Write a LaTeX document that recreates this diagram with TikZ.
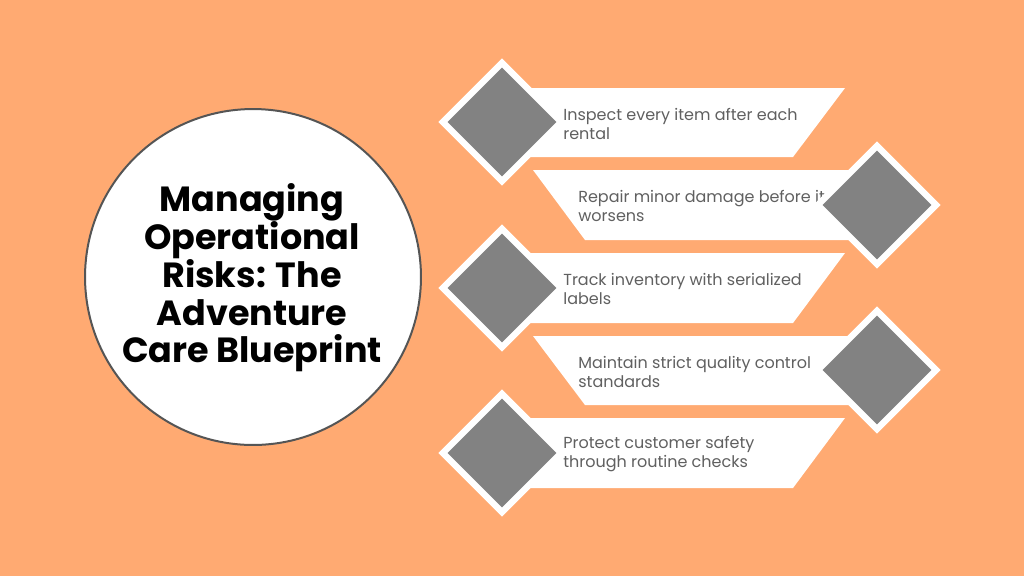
\documentclass[tikz,border=0pt]{standalone}
\usepackage{fontspec}
\setmainfont{Poppins}
\usetikzlibrary{shapes.geometric}

\definecolor{bgorange}{HTML}{FFAA72}
\definecolor{tilegray}{HTML}{828282}
\definecolor{textgray}{HTML}{606060}
\definecolor{rimgray}{HTML}{555555}

\begin{document}
\begin{tikzpicture}[x=0.02cm, y=-0.02cm]
    \tikzstyle{banner} = [fill=white]
    \tikzstyle{tile}   = [shape=diamond, fill=tilegray, draw=white, line width=0.128cm, inner sep=0, minimum width=2.42cm, minimum height=2.42cm]
    \tikzstyle{item}   = [anchor=west, align=left, inner sep=0, text=textgray, font=\fontsize{9.1}{10.8}\selectfont]

    \fill[bgorange] (0, 0) rectangle (1024, 576);

    \node[shape=circle, fill=white, draw=rimgray, line width=0.04cm, minimum size=6.72cm] (hub) at (253, 277) {};
    \node[align=center, font=\fontsize{19.9}{21.5}\selectfont\bfseries] (title) at (252, 278) {Managing\\Operational\\Risks: The\\Adventure\\Care Blueprint};

        \fill[banner] (502, 88)  -- (845, 88)  -- (793, 157) -- (502, 157) -- cycle;
        \node[tile] (inspect) at (502, 122) {};
        \node[item] (inspecttext) at (563, 124) {Inspect every item after each\\rental};

        \fill[banner] (533, 170) -- (877, 170) -- (877, 240) -- (585, 240) -- cycle;
        \node[item] (repairtext) at (578, 206) {Repair minor damage before it\\worsens};
        \node[tile] (repair) at (877, 205) {};

        \fill[banner] (502, 253) -- (845, 253) -- (793, 323) -- (502, 323) -- cycle;
        \node[tile] (track) at (502, 288) {};
        \node[item] (tracktext) at (563, 289) {Track inventory with serialized\\labels};

        \fill[banner] (533, 336) -- (877, 336) -- (877, 405) -- (585, 405) -- cycle;
        \node[item] (maintaintext) at (578, 372) {Maintain strict quality control\\standards};
        \node[tile] (maintain) at (877, 370) {};

        \fill[banner] (502, 418) -- (845, 418) -- (793, 488) -- (502, 488) -- cycle;
        \node[tile] (protect) at (502, 453) {};
        \node[item] (protecttext) at (563, 454) {Protect customer safety\\through routine checks};
\end{tikzpicture}
\end{document}
